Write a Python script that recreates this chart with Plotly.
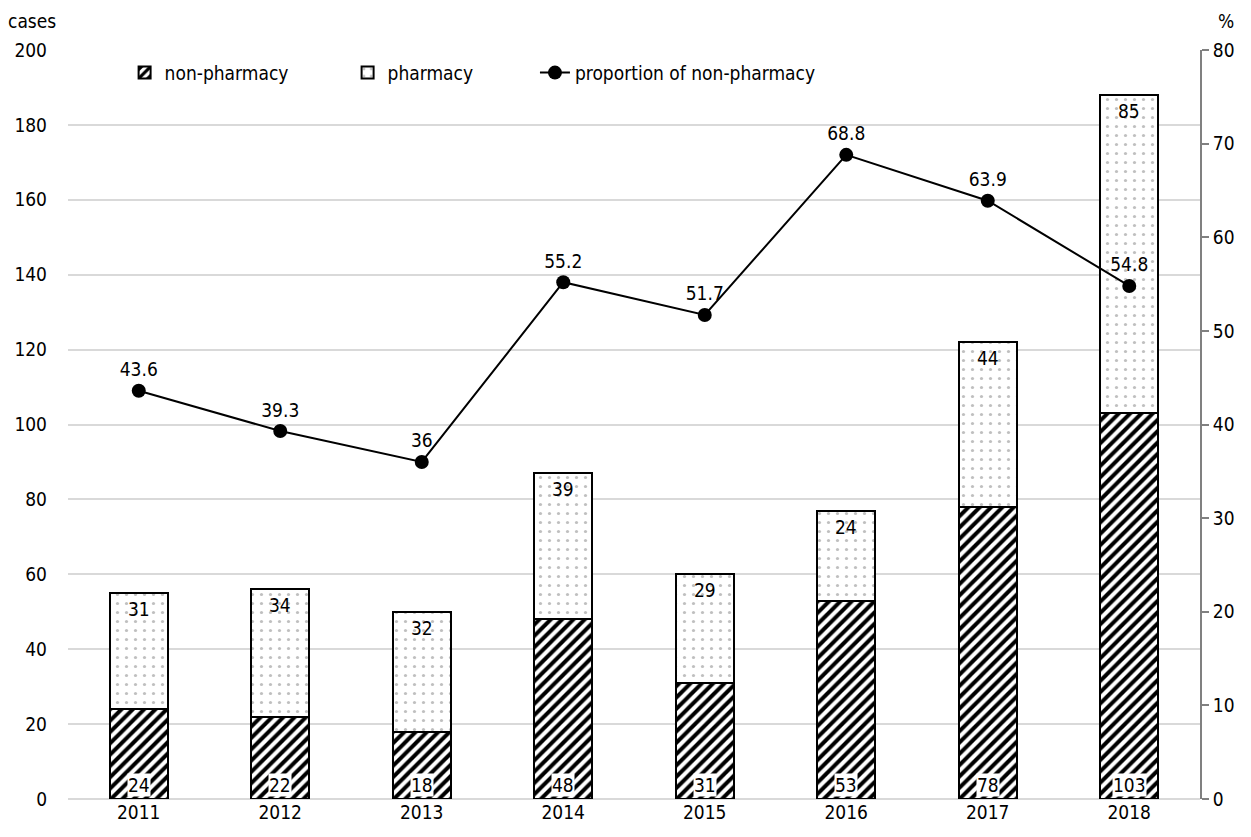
import plotly.graph_objects as go

years = ["2011", "2012", "2013", "2014", "2015", "2016", "2017", "2018"]
non_pharmacy = [24, 22, 18, 48, 31, 53, 78, 103]
pharmacy = [31, 34, 32, 39, 29, 24, 44, 85]
proportion = [43.6, 39.3, 36, 55.2, 51.7, 68.8, 63.9, 54.8]
proportion_labels = ["43.6", "39.3", "36", "55.2", "51.7", "68.8", "63.9", "54.8"]

FONT = "DejaVu Sans Condensed, Liberation Sans Narrow, Liberation Sans, sans-serif"
FS = 19

fig = go.Figure()

fig.add_trace(go.Bar(
    x=years, y=non_pharmacy, name="non-pharmacy", legend="legend",
    marker=dict(color="white", line=dict(color="black", width=2),
                pattern=dict(shape="/", fgcolor="black", bgcolor="white", fgopacity=1,
                             size=8, solidity=0.5)),
    width=0.41,
))
fig.add_trace(go.Bar(
    x=years, y=pharmacy, name="pharmacy", legend="legend",
    marker=dict(color="white", line=dict(color="black", width=2),
                pattern=dict(shape=".", fgcolor="#808080", bgcolor="white",
                             size=9, solidity=0.1)),
    width=0.41,
))
fig.add_trace(go.Scatter(
    x=years, y=proportion, name="proportion of non-pharmacy", yaxis="y2", legend="legend2",
    mode="lines+markers+text", text=proportion_labels, textposition="top center",
    textfont=dict(size=FS, color="black", family=FONT),
    line=dict(color="black", width=2),
    marker=dict(color="black", size=14),
))

# value labels: category index positions on the x axis
annotations = []
for i, (n, p) in enumerate(zip(non_pharmacy, pharmacy)):
    annotations.append(dict(x=i, y=n + p, xref="x", yref="y", text=str(p), showarrow=False,
                            yanchor="top", yshift=-3,
                            font=dict(size=FS, color="black", family=FONT)))
    annotations.append(dict(x=i, y=0, xref="x", yref="y", text=str(n), showarrow=False,
                            yanchor="bottom", yshift=2, bgcolor="white", borderpad=0,
                            font=dict(size=FS, color="black", family=FONT)))
annotations.append(dict(x=0, xref="paper", xanchor="right", xshift=-10, y=1, yref="paper",
                        yanchor="bottom", yshift=16, text="cases", showarrow=False,
                        font=dict(size=FS, color="black", family=FONT)))
annotations.append(dict(x=1, xref="paper", xanchor="left", xshift=16, y=1, yref="paper",
                        yanchor="bottom", yshift=16, text="%", showarrow=False,
                        font=dict(size=FS, color="black", family=FONT)))

legend_style = dict(orientation="h", yanchor="top", y=0.995, xanchor="left",
                    font=dict(size=FS, family=FONT), bgcolor="rgba(0,0,0,0)")

fig.update_layout(
    width=1251, height=837,
    barmode="stack", bargap=0.59,
    plot_bgcolor="white", paper_bgcolor="white",
    margin=dict(l=68, r=51, t=50, b=38),
    font=dict(family=FONT, size=FS, color="black"),
    showlegend=True,
    legend=dict(x=0.05, traceorder="normal", entrywidth=178, entrywidthmode="pixels",
                **legend_style),
    legend2=dict(x=0.4125, **legend_style),
    xaxis=dict(type="category", range=[-0.5, 7.5], showline=False, ticks="",
               showgrid=False, tickfont=dict(size=FS)),
    yaxis=dict(range=[0, 200], dtick=20, showgrid=True, gridcolor="#d9d9d9", gridwidth=2,
               zeroline=True, zerolinecolor="#d9d9d9", zerolinewidth=2,
               showline=False, ticks="", ticklabelstandoff=20, tickfont=dict(size=FS)),
    yaxis2=dict(range=[0, 80], dtick=10, overlaying="y", side="right", showgrid=False,
                zeroline=False, showline=True, linecolor="#808080", linewidth=2,
                ticks="outside", ticklen=7, tickcolor="#808080", tickwidth=2,
                tickfont=dict(size=FS)),
    annotations=annotations,
)

fig.write_html("out.html")
